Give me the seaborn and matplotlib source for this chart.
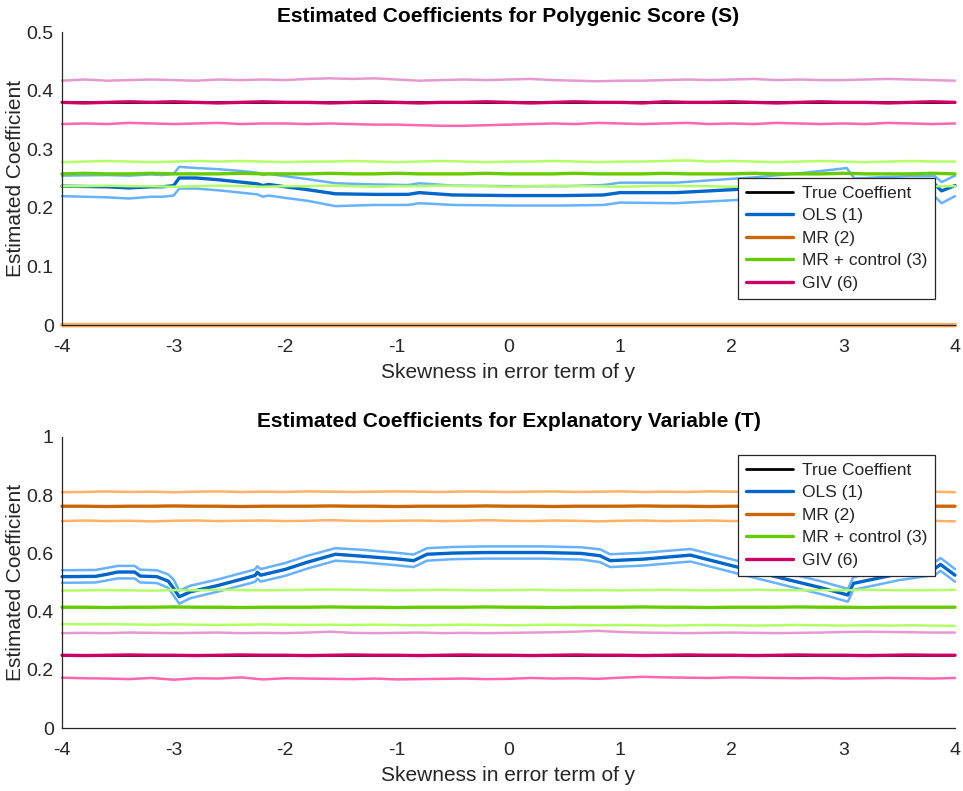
import numpy as np
import matplotlib
matplotlib.use("Agg")
import matplotlib.pyplot as plt
import seaborn as sns

sns.set_style("white")
plt.rcParams["font.family"] = ["Liberation Sans", "DejaVu Sans"]
plt.rcParams["axes.unicode_minus"] = False

# shared grid for the flat (noisy) series
x41 = np.linspace(-4, 4, 41)
x_ends = [-4, 4]

# ---------------- top panel: Polygenic Score (S) ----------------
top_true = [0.38, 0.38]

top_ols_x = [-4.0, -3.6, -3.4, -3.2, -3.1, -3.0, -2.95, -2.8, -2.6, -2.4, -2.25, -2.2, -2.15, -2.0,
             -1.8, -1.55, -1.2, -0.9, -0.8, -0.5, 0.0, 0.5, 0.85, 1.0, 1.5, 1.8, 2.2, 2.6, 2.9,
             3.03, 3.1, 3.3, 3.6, 3.82, 3.88, 4.0]
top_ols_mid = [0.237, 0.236, 0.234, 0.236, 0.236, 0.238, 0.251, 0.251, 0.248, 0.244, 0.241, 0.238, 0.240, 0.236,
               0.231, 0.224, 0.223, 0.223, 0.226, 0.222, 0.221, 0.221, 0.222, 0.226, 0.226, 0.229, 0.233, 0.238, 0.244,
               0.246, 0.230, 0.234, 0.238, 0.240, 0.229, 0.238]
top_ols_up = [0.255, 0.256, 0.255, 0.257, 0.256, 0.258, 0.270, 0.268, 0.266, 0.263, 0.260, 0.256, 0.258, 0.254,
              0.249, 0.242, 0.240, 0.239, 0.242, 0.238, 0.237, 0.237, 0.239, 0.243, 0.243, 0.247, 0.252, 0.259, 0.265,
              0.268, 0.250, 0.252, 0.254, 0.254, 0.244, 0.255]
top_ols_lo = [0.220, 0.218, 0.216, 0.219, 0.219, 0.221, 0.233, 0.233, 0.230, 0.226, 0.223, 0.219, 0.221, 0.217,
              0.212, 0.203, 0.205, 0.205, 0.208, 0.205, 0.204, 0.204, 0.205, 0.209, 0.208, 0.211, 0.215, 0.219, 0.224,
              0.226, 0.211, 0.215, 0.219, 0.219, 0.208, 0.220]

top_mr_mid = [0.0, 0.0]
top_mr_up = [0.0, 0.0]
top_mr_lo = [0.0, 0.0]

top_mrc_up = [0.278, 0.279, 0.280, 0.279, 0.278, 0.279, 0.280, 0.279, 0.280, 0.279, 0.278, 0.279, 0.279, 0.280,
              0.279, 0.278, 0.279, 0.280, 0.279, 0.278, 0.279, 0.279, 0.280, 0.279, 0.278, 0.279, 0.279, 0.280,
              0.281, 0.279, 0.280, 0.279, 0.278, 0.279, 0.280, 0.279, 0.278, 0.279, 0.280, 0.279, 0.279]
top_mrc_mid = [0.258, 0.259, 0.258, 0.258, 0.259, 0.258, 0.258, 0.258, 0.259, 0.258, 0.258, 0.258, 0.259, 0.258,
               0.258, 0.259, 0.258, 0.258, 0.258, 0.259, 0.258, 0.258, 0.258, 0.259, 0.258, 0.258, 0.258, 0.259,
               0.258, 0.258, 0.258, 0.259, 0.258, 0.258, 0.258, 0.259, 0.258, 0.258, 0.258, 0.259, 0.258]
top_mrc_lo = [0.237, 0.237, 0.238, 0.237, 0.237, 0.236, 0.237, 0.238, 0.237, 0.236, 0.237, 0.237, 0.238, 0.237,
              0.236, 0.237, 0.237, 0.238, 0.237, 0.237, 0.236, 0.237, 0.238, 0.237, 0.237, 0.236, 0.237, 0.238,
              0.237, 0.237, 0.236, 0.237, 0.237, 0.238, 0.237, 0.236, 0.237, 0.237, 0.238, 0.237, 0.237]

top_giv_up = [0.417, 0.419, 0.417, 0.418, 0.419, 0.418, 0.417, 0.419, 0.418, 0.419, 0.418, 0.420, 0.421, 0.420,
              0.421, 0.419, 0.417, 0.418, 0.419, 0.418, 0.419, 0.420, 0.418, 0.417, 0.416, 0.417, 0.417, 0.418,
              0.419, 0.418, 0.419, 0.420, 0.418, 0.419, 0.418, 0.418, 0.419, 0.420, 0.419, 0.418, 0.417]
top_giv_mid = [0.380, 0.379, 0.380, 0.381, 0.380, 0.381, 0.380, 0.379, 0.380, 0.381, 0.380, 0.380, 0.379, 0.380,
               0.381, 0.380, 0.379, 0.380, 0.380, 0.381, 0.380, 0.379, 0.380, 0.381, 0.380, 0.380, 0.379, 0.381,
               0.380, 0.380, 0.381, 0.380, 0.379, 0.380, 0.381, 0.380, 0.380, 0.379, 0.380, 0.381, 0.380]
top_giv_lo = [0.343, 0.344, 0.343, 0.345, 0.344, 0.343, 0.344, 0.345, 0.343, 0.344, 0.344, 0.343, 0.344, 0.343,
              0.342, 0.342, 0.341, 0.340, 0.340, 0.341, 0.342, 0.343, 0.344, 0.343, 0.345, 0.344, 0.343, 0.344,
              0.345, 0.343, 0.344, 0.343, 0.345, 0.344, 0.343, 0.344, 0.343, 0.345, 0.344, 0.343, 0.344]

# ---------------- bottom panel: Explanatory Variable (T) ----------------
bot_true = [0.25, 0.25]

bot_ols_x = [-4.0, -3.7, -3.6, -3.5, -3.35, -3.3, -3.15, -3.05, -3.0, -2.95, -2.85, -2.6, -2.27, -2.25, -2.22,
             -2.0, -1.8, -1.55, -1.3, -1.0, -0.85, -0.73, -0.5, -0.2, 0.0, 0.3, 0.65, 0.82, 0.91, 1.2, 1.63,
             2.1, 2.5, 2.8, 3.04, 3.09, 3.5, 3.82, 3.87, 3.93, 4.0]
bot_ols_mid = [0.520, 0.521, 0.528, 0.536, 0.536, 0.522, 0.520, 0.505, 0.480, 0.451, 0.468, 0.490, 0.524, 0.535, 0.525,
               0.545, 0.570, 0.597, 0.590, 0.581, 0.575, 0.597, 0.601, 0.603, 0.603, 0.603, 0.600, 0.592, 0.575, 0.580, 0.594,
               0.548, 0.510, 0.482, 0.457, 0.497, 0.530, 0.548, 0.562, 0.545, 0.525]
bot_ols_up = [0.542, 0.543, 0.550, 0.557, 0.557, 0.544, 0.542, 0.528, 0.510, 0.472, 0.489, 0.511, 0.545, 0.556, 0.546,
              0.567, 0.592, 0.618, 0.612, 0.602, 0.596, 0.618, 0.622, 0.624, 0.624, 0.624, 0.621, 0.614, 0.597, 0.602, 0.615,
              0.570, 0.532, 0.504, 0.478, 0.519, 0.552, 0.570, 0.584, 0.567, 0.546]
bot_ols_lo = [0.499, 0.500, 0.507, 0.514, 0.514, 0.500, 0.498, 0.482, 0.455, 0.427, 0.446, 0.469, 0.502, 0.513, 0.503,
              0.523, 0.548, 0.575, 0.569, 0.559, 0.553, 0.575, 0.580, 0.582, 0.582, 0.582, 0.579, 0.570, 0.553, 0.558, 0.572,
              0.526, 0.488, 0.460, 0.434, 0.475, 0.508, 0.526, 0.540, 0.523, 0.503]

bot_mr_up = [0.810, 0.811, 0.813, 0.811, 0.812, 0.810, 0.812, 0.813, 0.811, 0.812, 0.811, 0.813, 0.812, 0.811,
             0.812, 0.813, 0.812, 0.811, 0.813, 0.812, 0.811, 0.812, 0.813, 0.811, 0.812, 0.813, 0.811, 0.812,
             0.811, 0.813, 0.812, 0.811, 0.812, 0.813, 0.812, 0.811, 0.813, 0.812, 0.811, 0.812, 0.810]
bot_mr_mid = [0.762, 0.762, 0.761, 0.762, 0.762, 0.763, 0.762, 0.762, 0.761, 0.762, 0.762, 0.762, 0.763, 0.762,
              0.762, 0.761, 0.762, 0.762, 0.762, 0.763, 0.762, 0.762, 0.761, 0.762, 0.762, 0.762, 0.763, 0.762,
              0.762, 0.761, 0.762, 0.762, 0.762, 0.763, 0.762, 0.762, 0.761, 0.762, 0.762, 0.762, 0.762]
bot_mr_lo = [0.711, 0.713, 0.711, 0.712, 0.710, 0.712, 0.713, 0.711, 0.712, 0.713, 0.711, 0.712, 0.714, 0.712,
             0.711, 0.712, 0.713, 0.711, 0.712, 0.714, 0.712, 0.711, 0.713, 0.712, 0.710, 0.712, 0.713, 0.711,
             0.712, 0.713, 0.711, 0.712, 0.711, 0.713, 0.712, 0.711, 0.712, 0.713, 0.711, 0.712, 0.710]

bot_mrc_up = [0.472, 0.473, 0.474, 0.473, 0.472, 0.474, 0.473, 0.475, 0.474, 0.473, 0.474, 0.475, 0.476, 0.475,
              0.474, 0.473, 0.474, 0.475, 0.474, 0.473, 0.474, 0.475, 0.474, 0.473, 0.474, 0.473, 0.474, 0.475,
              0.474, 0.473, 0.474, 0.475, 0.474, 0.473, 0.474, 0.473, 0.475, 0.474, 0.473, 0.474, 0.475]
bot_mrc_mid = [0.415, 0.415, 0.414, 0.415, 0.415, 0.416, 0.415, 0.415, 0.414, 0.415, 0.415, 0.415, 0.416, 0.415,
               0.415, 0.414, 0.415, 0.415, 0.415, 0.416, 0.415, 0.415, 0.414, 0.415, 0.415, 0.415, 0.416, 0.415,
               0.415, 0.414, 0.415, 0.415, 0.415, 0.416, 0.415, 0.415, 0.414, 0.415, 0.415, 0.415, 0.415]
bot_mrc_lo = [0.357, 0.356, 0.357, 0.356, 0.355, 0.356, 0.355, 0.354, 0.355, 0.356, 0.355, 0.354, 0.355, 0.354,
              0.355, 0.354, 0.353, 0.354, 0.355, 0.354, 0.353, 0.354, 0.355, 0.354, 0.353, 0.354, 0.353, 0.352,
              0.353, 0.354, 0.353, 0.352, 0.353, 0.354, 0.353, 0.352, 0.353, 0.352, 0.353, 0.352, 0.351]

bot_giv_up = [0.326, 0.327, 0.326, 0.328, 0.327, 0.326, 0.327, 0.328, 0.326, 0.327, 0.326, 0.328, 0.331, 0.327,
              0.326, 0.327, 0.328, 0.326, 0.327, 0.326, 0.327, 0.328, 0.329, 0.331, 0.334, 0.330, 0.328, 0.327,
              0.326, 0.327, 0.328, 0.327, 0.326, 0.327, 0.328, 0.330, 0.331, 0.330, 0.329, 0.328, 0.328]
bot_giv_mid = [0.250, 0.249, 0.250, 0.251, 0.250, 0.250, 0.249, 0.250, 0.251, 0.250, 0.250, 0.249, 0.250, 0.251,
               0.250, 0.250, 0.249, 0.250, 0.251, 0.250, 0.250, 0.249, 0.250, 0.251, 0.250, 0.250, 0.249, 0.250,
               0.251, 0.250, 0.250, 0.249, 0.250, 0.251, 0.250, 0.250, 0.249, 0.250, 0.251, 0.250, 0.250]
bot_giv_lo = [0.173, 0.171, 0.170, 0.168, 0.172, 0.166, 0.171, 0.170, 0.174, 0.167, 0.171, 0.170, 0.169, 0.168,
              0.170, 0.167, 0.168, 0.169, 0.170, 0.168, 0.169, 0.172, 0.170, 0.171, 0.169, 0.173, 0.176, 0.174,
              0.173, 0.172, 0.174, 0.173, 0.172, 0.171, 0.172, 0.170, 0.171, 0.172, 0.171, 0.170, 0.172]

methods = ["True Coeffient", "OLS (1)", "MR (2)", "MR + control (3)", "GIV (6)"]
dark = {"OLS (1)": "#0066CC", "MR (2)": "#CC6600", "MR + control (3)": "#66CC00", "GIV (6)": "#CC0066"}
light_up = {"OLS (1)": "#66B2FF", "MR (2)": "#FFB266", "MR + control (3)": "#B2FF66", "GIV (6)": "#E699D0"}
light_lo = {"OLS (1)": "#66B2FF", "MR (2)": "#FFB266", "MR + control (3)": "#B2FF66", "GIV (6)": "#FF66B2"}

axis_col = "#262626"


def draw_panel(ax, series, ylim, yticks, yticklabels, title, legend_anchor):
    sns.lineplot(x=x_ends, y=series["True Coeffient"], ax=ax, color="black", lw=2.0,
                 label="True Coeffient")
    for m in methods[1:]:
        xs, mid, up, lo = series[m]
        # bands that sit exactly on the estimate (MR at 0) cover it completely
        band_lw = 3.0 if list(up) == list(mid) else 1.8
        sns.lineplot(x=xs, y=mid, ax=ax, color=dark[m], lw=2.4, label=m, clip_on=False)
        sns.lineplot(x=xs, y=up, ax=ax, color=light_up[m], lw=band_lw, clip_on=False)
        sns.lineplot(x=xs, y=lo, ax=ax, color=light_lo[m], lw=band_lw, clip_on=False)
    ax.set_xlim(-4, 4)
    ax.set_ylim(*ylim)
    ax.set_xticks(range(-4, 5))
    ax.set_yticks(yticks)
    ax.set_yticklabels(yticklabels)
    ax.set_title(title, fontsize=15, fontweight="bold", pad=7, color="black")
    ax.set_xlabel("Skewness in error term of y", fontsize=15, color=axis_col, labelpad=5)
    ax.set_ylabel("Estimated Coefficient", fontsize=15, color=axis_col, labelpad=1)
    ax.tick_params(direction="in", length=5, width=0.8, colors=axis_col, labelsize=14)
    ax.tick_params(axis="x", pad=10)
    ax.tick_params(axis="y", pad=6)
    sns.despine(ax=ax)
    for s in ["left", "bottom"]:
        ax.spines[s].set_color(axis_col)
        ax.spines[s].set_linewidth(0.9)
    leg = ax.legend(loc="upper right", bbox_to_anchor=legend_anchor, fontsize=12.5, frameon=True,
                    fancybox=False, framealpha=1, edgecolor=axis_col, handlelength=2.7,
                    handletextpad=0.55, labelspacing=0.42, borderpad=0.45, borderaxespad=0)
    leg.get_frame().set_linewidth(0.9)
    leg.set_zorder(5)


fig = plt.figure(figsize=(9.63, 7.91), dpi=100)
ax1 = fig.add_axes([0.0644, 0.589, 0.9273, 0.3705])
ax2 = fig.add_axes([0.0644, 0.0796, 0.9273, 0.368])

top_series = {
    "True Coeffient": top_true,
    "OLS (1)": (top_ols_x, top_ols_mid, top_ols_up, top_ols_lo),
    "MR (2)": (x_ends, top_mr_mid, top_mr_up, top_mr_lo),
    "MR + control (3)": (x41, top_mrc_mid, top_mrc_up, top_mrc_lo),
    "GIV (6)": (x41, top_giv_mid, top_giv_up, top_giv_lo),
}
bot_series = {
    "True Coeffient": bot_true,
    "OLS (1)": (bot_ols_x, bot_ols_mid, bot_ols_up, bot_ols_lo),
    "MR (2)": (x41, bot_mr_mid, bot_mr_up, bot_mr_lo),
    "MR + control (3)": (x41, bot_mrc_mid, bot_mrc_up, bot_mrc_lo),
    "GIV (6)": (x41, bot_giv_mid, bot_giv_up, bot_giv_lo),
}

draw_panel(ax1, top_series, (0, 0.5), [0, 0.1, 0.2, 0.3, 0.4, 0.5],
           ["0", "0.1", "0.2", "0.3", "0.4", "0.5"],
           "Estimated Coefficients for Polygenic Score (S)", (0.978, 0.502))
draw_panel(ax2, bot_series, (0, 1), [0, 0.2, 0.4, 0.6, 0.8, 1.0],
           ["0", "0.2", "0.4", "0.6", "0.8", "1"],
           "Estimated Coefficients for Explanatory Variable (T)", (0.978, 0.938))

fig.savefig("out.png", dpi=100)
